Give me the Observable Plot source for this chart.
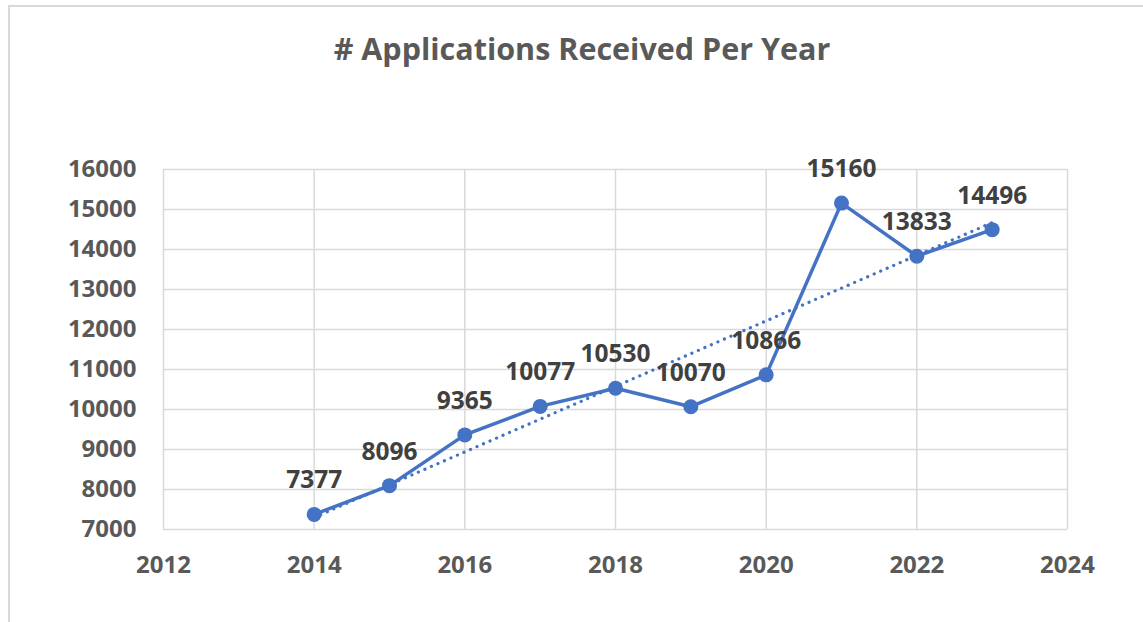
<!DOCTYPE html>
<html>
<head>
<meta charset="utf-8">
<script src="https://cdn.jsdelivr.net/npm/d3@7"></script>
<script src="https://cdn.jsdelivr.net/npm/@observablehq/plot@0.6"></script>
<style>
  body { margin: 0; overflow: hidden; background: white; }
  #wrap { position: relative; width: 1143px; height: 622px; overflow: hidden; background: white; }
  #title { box-sizing: border-box; height: 90px; padding-top: 29px; padding-left: 21px; text-align: center;
           font-family: "Open Sans", sans-serif; font-weight: bold; font-size: 30.5px; line-height: 38px; color: #595959; }
  #frame { position: absolute; left: 8px; top: 5px; width: 1300px; height: 800px;
           border: 2px solid #d9d9d9; pointer-events: none; }
</style>
</head>
<body>
<div id="wrap">
  <div id="title"># Applications Received Per Year</div>
  <div id="chart"></div>
  <div id="frame"></div>
</div>
<script>
const years = [2014, 2015, 2016, 2017, 2018, 2019, 2020, 2021, 2022, 2023];
const applications = [7377, 8096, 9365, 10077, 10530, 10070, 10866, 15160, 13833, 14496];
const xTicks = [2012, 2014, 2016, 2018, 2020, 2022, 2024];
const yTicks = [7000, 8000, 9000, 10000, 11000, 12000, 13000, 14000, 15000, 16000];

const data = years.map((year, i) => ({year, value: applications[i]}));
const blue = "#4472C4";

const chart = Plot.plot({
  width: 1143,
  height: 532,
  marginTop: 79,
  marginBottom: 93,
  marginLeft: 163,
  marginRight: 76,
  style: {fontFamily: "Open Sans, sans-serif", fontSize: "24px", fontWeight: "bold", color: "#595959", background: "transparent"},
  x: {domain: [2012, 2024]},
  y: {domain: [7000, 16000]},
  marks: [
    Plot.gridX(xTicks, {stroke: "#d9d9d9", strokeOpacity: 1, strokeWidth: 1.5}),
    Plot.gridY(yTicks, {stroke: "#d9d9d9", strokeOpacity: 1, strokeWidth: 1.5}),
    Plot.axisX({ticks: xTicks, tickSize: 0, tickPadding: 26, tickFormat: d => String(d), label: null}),
    Plot.axisY({ticks: yTicks, tickSize: 0, tickPadding: 27, tickFormat: d => String(d), label: null}),
    Plot.linearRegressionY(data, {x: "year", y: "value", ci: 0, stroke: blue, strokeWidth: 3.2,
      strokeDasharray: "0.1,7", strokeLinecap: "round"}),
    Plot.line(data, {x: "year", y: "value", stroke: blue, strokeWidth: 3.5}),
    Plot.dot(data, {x: "year", y: "value", r: 7.5, fill: blue, stroke: "none"}),
    Plot.text(data, {x: "year", y: "value", text: d => String(d.value), dy: -34,
      fill: "#404040", fontSize: 24.5, fontWeight: "bold"})
  ]
});
document.getElementById("chart").appendChild(chart);
</script>
</body>
</html>
